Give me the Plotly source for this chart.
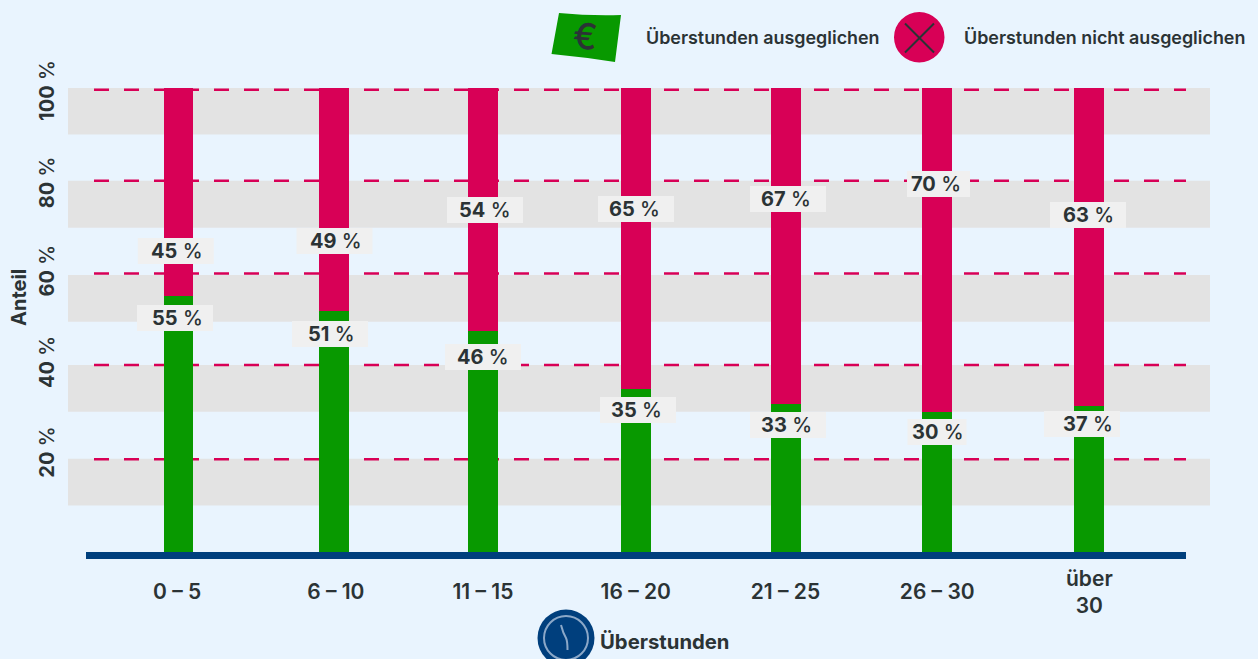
import plotly.graph_objects as go

# ---------- data ----------
categories = ["0 – 5", "6 – 10", "11 – 15", "16 – 20", "21 – 25", "26 – 30", "über<br>30"]
green_heights = [55.2, 51.9, 47.7, 35.1, 32.0, 30.2, 31.4]
red_heights = [44.8, 48.1, 52.3, 64.9, 68.0, 69.8, 68.6]
green_labels = [55, 51, 46, 35, 33, 30, 37]
red_labels = [45, 49, 54, 65, 67, 70, 63]
y_tick_text = ["<b>20</b> %", "<b>40</b> %", "<b>60</b> %", "<b>80</b> %", "<b>100</b> %"]
band_ranges = [(10, 20.1), (30.2, 40.3), (49.6, 59.7), (69.9, 80), (90, 100)]
dash_levels = [20, 40.3, 60, 80, 99.6]

# ---------- layout geometry ----------
W, H = 1258, 659
L, R, T, B = 68, 1210, 88, 552
FONT = "Inter"
INK = "#2b3335"
GREEN = "#089900"
RED = "#d80056"
NAVY = "#003f7d"
BAND = "#e3e3e3"
BG = "#e9f4fe"
BOX = "#f0f0f0"

bar_slots = [0, 1.0245, 2.007, 3.014, 4.005, 5.0, 6.0]
tick_slots = [-0.008, 1.038, 2.007, 3.014, 4.0, 5.0]
y_tick_pos = [20.9, 40.3, 60, 79, 98.8]
SLOT_PX = 151.78
X0_PX = 178.3
x_range = [(L - X0_PX) / SLOT_PX, (R - X0_PX) / SLOT_PX]

# label boxes in pixels: (box centre x, box centre y, box width, text centre x)
red_boxes = [(175.8, 251, 76, 177), (334.5, 241, 76, 336), (485, 210, 76, 485),
             (636, 209, 76, 634), (788, 199, 76, 786), (938.5, 184, 63, 936), (1088, 215, 76, 1088)]
green_boxes = [(175, 318, 76, 177), (330, 334, 76, 331), (483, 357, 76, 483),
               (638, 410, 76, 636), (788, 425, 76, 786), (937, 432, 59, 938), (1082, 424, 76, 1088)]
BOX_H = 26


def px(x):
    return (x - L) / (R - L)


def py(y):
    return (B - y) / (B - T)


shapes = []
for lo, hi in band_ranges:
    shapes.append(dict(type="rect", xref="paper", yref="y", x0=0, x1=1, y0=lo, y1=hi,
                       fillcolor=BAND, line_width=0, layer="below"))
for lev in dash_levels:
    shapes.append(dict(type="line", xref="paper", yref="y", x0=px(94), x1=px(1186), y0=lev, y1=lev,
                       line=dict(color=RED, width=2.5, dash="15px,15px"), layer="below"))

# label boxes
for cx, cy, w, _ in red_boxes + green_boxes:
    shapes.append(dict(type="rect", xref="paper", yref="paper", x0=px(cx - w / 2), x1=px(cx + w / 2),
                       y0=py(cy + BOX_H / 2), y1=py(cy - BOX_H / 2), fillcolor=BOX, line_width=0, layer="above"))

# baseline
shapes.append(dict(type="rect", xref="paper", yref="paper", x0=px(86), x1=px(1186), y0=py(559), y1=py(552),
                   fillcolor=NAVY, line_width=0, layer="above"))

# money icon
money = (f"M {px(559)},{py(13)} Q {px(590)},{py(16)} {px(621)},{py(15)} "
         f"L {px(615)},{py(62)} Q {px(583)},{py(57)} {px(551.5)},{py(54)} Z")
shapes.append(dict(type="path", xref="paper", yref="paper", path=money, fillcolor=GREEN, line_width=0, layer="above"))

# cross icon
shapes.append(dict(type="circle", xref="paper", yref="paper", x0=px(894), x1=px(944.5), y0=py(62.5), y1=py(12),
                   fillcolor=RED, line_width=0, layer="above"))
for a, b, c, d in [(905, 23.5, 934, 52.5), (934, 23.5, 905, 52.5)]:
    shapes.append(dict(type="line", xref="paper", yref="paper", x0=px(a), y0=py(b), x1=px(c), y1=py(d),
                       line=dict(color=INK, width=2), layer="above"))

# clock icon
shapes.append(dict(type="circle", xref="paper", yref="paper", x0=px(537.5), x1=px(594.5), y0=py(666.5), y1=py(609.5),
                   fillcolor=NAVY, line_width=0, layer="above"))
shapes.append(dict(type="circle", xref="paper", yref="paper", x0=px(544), x1=px(588), y0=py(660), y1=py(616),
                   fillcolor=NAVY, line=dict(color="#8ba8c8", width=2), layer="above"))
hand = f"M {px(561)},{py(625)} Q {px(563)},{py(633)} {px(566)},{py(638)} Q {px(567.5)},{py(641)} {px(567.5)},{py(650)}"
shapes.append(dict(type="path", xref="paper", yref="paper", path=hand, line=dict(color="#8ba8c8", width=2), layer="above"))

annotations = []


def note(text, x, y, size=20, weight=600, angle=0, anchor="center"):
    annotations.append(dict(text=text, xref="paper", yref="paper", x=px(x), y=py(y), xanchor=anchor, yanchor="middle",
                            showarrow=False, textangle=angle, font=dict(family=FONT, size=size, weight=weight, color=INK)))


for val, box in zip(red_labels + green_labels, red_boxes + green_boxes):
    note(f"<b>{val}</b> %", box[3], box[1], weight=500)

note("Überstunden ausgeglichen", 644, 38, size=17.9, anchor="left")
note("Überstunden nicht ausgeglichen", 962, 37, size=17.9, anchor="left")
note("Überstunden", 598, 641, size=20.3, weight=700, anchor="left")
note("Anteil", 19, 298, size=20, weight=700, angle=-90)
note("€", 585, 36, size=36, weight=500, angle=5)
note(categories[-1], 1089, 592, size=21)

fig = go.Figure()
fig.add_bar(x=bar_slots, y=green_heights, width=0.195, marker=dict(color=GREEN, line_width=0), showlegend=False,
            name="Überstunden ausgeglichen")
fig.add_bar(x=bar_slots, y=red_heights, width=0.195, marker=dict(color=RED, line_width=0), showlegend=False,
            name="Überstunden nicht ausgeglichen")

fig.update_layout(
    width=W, height=H, autosize=False, barmode="stack",
    margin=dict(l=L, r=W - R, t=T, b=H - B, pad=0),
    paper_bgcolor=BG, plot_bgcolor=BG,
    shapes=shapes, annotations=annotations, showlegend=False,
    xaxis=dict(range=x_range, tickmode="array", tickvals=tick_slots, ticktext=categories[:-1], showgrid=False,
               zeroline=False, showline=False, ticks="", ticklabelstandoff=25,
               tickfont=dict(family=FONT, size=21, weight=600, color=INK)),
    yaxis=dict(range=[0, 100], tickmode="array", tickvals=y_tick_pos, ticktext=y_tick_text, showgrid=False,
               zeroline=False, showline=False, ticks="", tickangle=-90, ticklabelstandoff=9,
               tickfont=dict(family=FONT, size=20, weight=500, color=INK)),
)
fig.write_html("out.html", config=dict(displayModeBar=False),
               post_script="document.body.style.margin='0';document.body.style.overflow='hidden';"
                           "document.body.style.background='#e9f4fe';")
